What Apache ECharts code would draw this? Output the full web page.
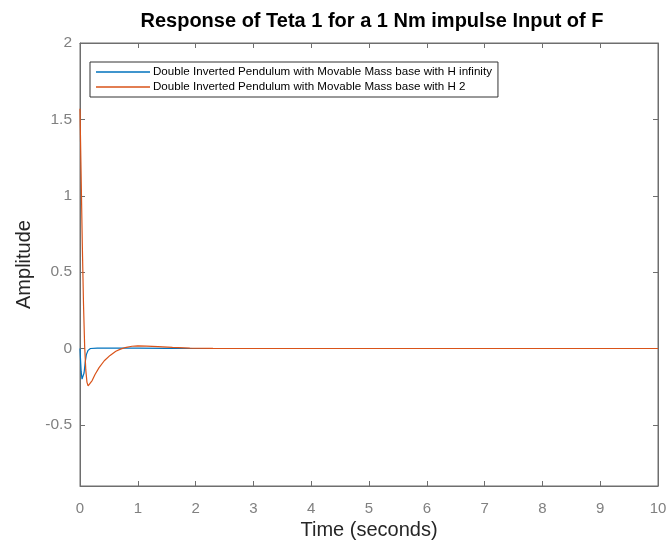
<!DOCTYPE html>
<html>
<head>
<meta charset="utf-8">
<script src="https://cdn.jsdelivr.net/npm/echarts@6/dist/echarts.min.js"></script>
<style>
  html, body { margin: 0; padding: 0; background: #fff; }
  #chart { width: 667px; height: 542px; }
</style>
</head>
<body>
<div id="chart"></div>
<script>
// values
const seriesNames = [
  'Double Inverted Pendulum with Movable Mass base with H infinity',
  'Double Inverted Pendulum with Movable Mass base with H 2'
];
const hinfTime = [0, 0.01, 0.02, 0.035, 0.05, 0.07, 0.09, 0.11, 0.14, 0.18, 0.3, 0.6, 1.0, 1.5, 2.0, 10];
const hinfValue = [0, -0.08, -0.15, -0.2, -0.21, -0.16, -0.09, -0.04, -0.012, 0, 0.002, 0.003, 0.003, 0.001, 0, 0];
const h2Time = [0, 0.02, 0.04, 0.06, 0.08, 0.1, 0.12, 0.14, 0.17, 0.21, 0.26, 0.33, 0.42, 0.52, 0.62, 0.7, 0.8, 0.9, 1.0, 1.15, 1.35, 1.6, 1.9, 2.3, 10];
const h2Value = [1.57, 1.12, 0.68, 0.3, 0.02, -0.14, -0.22, -0.245, -0.24, -0.21, -0.17, -0.125, -0.08, -0.045, -0.018, -0.004, 0.008, 0.015, 0.017, 0.016, 0.012, 0.007, 0.003, 0.001, 0];
const xTicks = [0, 1, 2, 3, 4, 5, 6, 7, 8, 9, 10];
const yTicks = [-0.5, 0, 0.5, 1, 1.5, 2];

const chart = echarts.init(document.getElementById('chart'));
const axisGray = '#6e6e6e';
const labelGray = '#808080';
const font = 'Liberation Sans';

const pairs = (t, v) => t.map((x, i) => [x, v[i]]);

const tickStyle = { show: true, inside: true, length: 5, lineStyle: { color: axisGray } };

const option = {
  animation: false,
  title: {
    text: 'Response of Teta 1 for a 1 Nm impulse Input of F',
    left: 367, top: 6, textAlign: 'center',
    textStyle: { fontFamily: font, fontSize: 20, fontWeight: 'bold', color: '#000' }
  },
  legend: {
    orient: 'vertical',
    left: 90, top: 62,
    data: seriesNames,
    icon: 'rect',
    itemWidth: 54, itemHeight: 1.5,
    itemGap: 3,
    padding: [4, 6, 4, 6],
    borderColor: '#333', borderWidth: 1,
    backgroundColor: '#fff',
    textStyle: { fontFamily: font, fontSize: 11.6, color: '#000', padding: [0, 0, 0, -2] }
  },
  grid: {
    left: 80, right: 9, top: 43, bottom: 56,
    containLabel: false, outerBoundsMode: 'none',
    show: true, borderColor: axisGray, borderWidth: 1
  },
  xAxis: [{
    type: 'value', min: 0, max: 10, interval: 1,
    name: 'Time (seconds)', nameLocation: 'middle', nameGap: 25,
    nameTextStyle: { fontFamily: font, fontSize: 20, color: '#262626' },
    axisLine: { show: true, onZero: false, lineStyle: { color: axisGray } },
    axisTick: tickStyle,
    axisLabel: { margin: 15, fontFamily: font, fontSize: 15, color: labelGray, showMaxLabel: true },
    splitLine: { show: false }
  }, {
    type: 'value', min: 0, max: 10, interval: 1, position: 'top',
    axisLine: { show: true, onZero: false, lineStyle: { color: axisGray } },
    axisTick: tickStyle,
    axisLabel: { show: false }, splitLine: { show: false }
  }],
  yAxis: [{
    type: 'value', min: -0.9, max: 2,
    name: 'Amplitude', nameLocation: 'middle', nameGap: 44,
    nameTextStyle: { fontFamily: font, fontSize: 20, color: '#262626' },
    axisLine: { show: true, onZero: false, lineStyle: { color: axisGray } },
    axisTick: Object.assign({ customValues: yTicks }, tickStyle),
    axisLabel: { margin: 8, fontFamily: font, fontSize: 15.5, color: labelGray, customValues: yTicks },
    splitLine: { show: false }
  }, {
    type: 'value', min: -0.9, max: 2, position: 'right',
    axisLine: { show: true, onZero: false, lineStyle: { color: axisGray } },
    axisTick: Object.assign({ customValues: yTicks }, tickStyle),
    axisLabel: { show: false, customValues: yTicks }, splitLine: { show: false }
  }],
  series: [{
    name: seriesNames[0], type: 'line', showSymbol: false, symbol: 'none',
    data: pairs(hinfTime, hinfValue),
    lineStyle: { color: '#0072BD', width: 1.2 }, itemStyle: { color: '#0072BD' }
  }, {
    name: seriesNames[1], type: 'line', showSymbol: false, symbol: 'none',
    data: pairs(h2Time, h2Value),
    lineStyle: { color: '#D95319', width: 1.2 }, itemStyle: { color: '#D95319' }
  }]
};
chart.setOption(option);
</script>
</body>
</html>
